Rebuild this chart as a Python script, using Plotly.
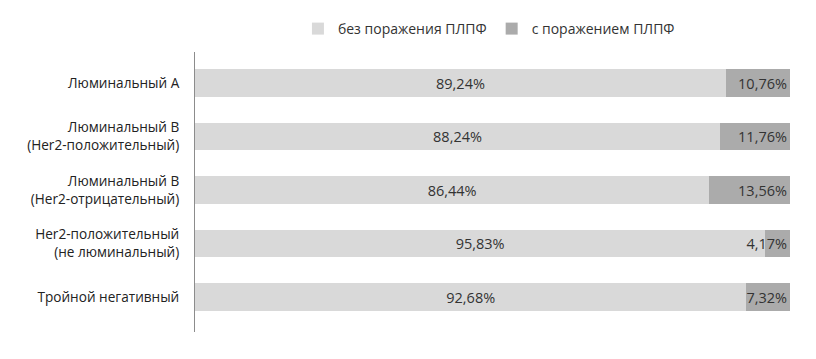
import plotly.graph_objects as go

categories = [
    "Люминальный А",
    "Люминальный В<br>(Her2-положительный)",
    "Люминальный В<br>(Her2-отрицательный)",
    "Her2-положительный<br>(не люминальный)",
    "Тройной негативный",
]
without_lesion = [89.24, 88.24, 86.44, 95.83, 92.68]
with_lesion = [10.76, 11.76, 13.56, 4.17, 7.32]
series_names = ["без поражения ПЛПФ", "с поражением ПЛПФ"]

def fmt(v):
    return f"{v:.2f}".replace(".", ",") + "%"

FONT = "Open Sans"
fig = go.Figure()
fig.add_trace(go.Bar(
    y=categories, x=without_lesion, orientation="h", name=series_names[0],
    marker=dict(color="#d9d9d9", line=dict(width=0)),
    text=[fmt(v) for v in without_lesion], textposition="inside",
    insidetextanchor="middle", constraintext="none", textangle=0,
    textfont=dict(family=FONT, size=14.5, color="#333333"),
    hoverinfo="skip",
))
fig.add_trace(go.Bar(
    y=categories, x=with_lesion, orientation="h", name=series_names[1],
    marker=dict(color="#ababab", line=dict(width=0)),
    text=[fmt(v) for v in with_lesion], textposition="inside",
    insidetextanchor="end", constraintext="none", textangle=0,
    textfont=dict(family=FONT, size=14.5, color="#333333"),
    hoverinfo="skip",
))
fig.update_layout(
    width=816, height=359,
    barmode="stack", bargap=0.48,
    paper_bgcolor="white", plot_bgcolor="white",
    margin=dict(l=195, r=26, t=52, b=27, autoexpand=False),
    font=dict(family=FONT, size=13, color="#333333"),
    showlegend=True,
    legend=dict(orientation="h", x=0.173, xanchor="left", y=1.025, yanchor="bottom",
                font=dict(family=FONT, size=14, color="#333333"),
                itemwidth=30, traceorder="normal"),
    xaxis=dict(range=[0, 100], showgrid=False, showticklabels=False,
               zeroline=False, showline=False, fixedrange=True, automargin=False),
    yaxis=dict(type="category", range=[4.654, -0.58], showgrid=False,
               showline=True, linecolor="#8c8c8c", linewidth=1,
               ticks="", ticklabelstandoff=12, automargin=False,
               tickfont=dict(family=FONT, size=13.6, color="#222222"),
               zeroline=False, fixedrange=True),
)
fig.write_html(
    "out.html",
    config={"displayModeBar": False, "staticPlot": True},
    post_script="document.body.style.margin='0';document.body.style.overflow='hidden';",
)
